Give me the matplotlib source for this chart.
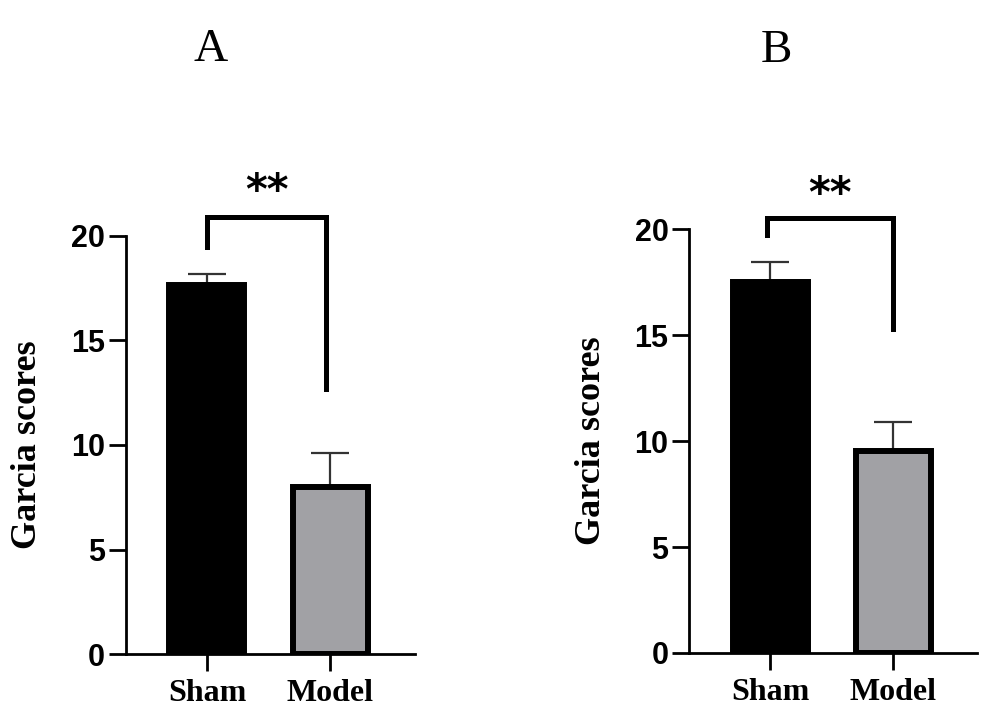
import numpy as np
import matplotlib
matplotlib.use('Agg')
import matplotlib.pyplot as plt

groups = ['Sham', 'Model']
colors = ['#000000', '#a1a1a5']

# panel A
mean_a = [17.64, 8.0]
sem_a = [0.56, 1.63]
# panel B
mean_b = [17.5, 9.55]
sem_b = [0.96, 1.37]

panels = ['A', 'B']

serif = 'Liberation Serif'
sans = 'Liberation Sans'

fig = plt.figure(figsize=(10, 7.27), dpi=100)
fig.patch.set_facecolor('white')

ax_a = fig.add_axes([0.1257, 0.1004, 0.2893, 0.575])
ax_b = fig.add_axes([0.6893, 0.1018, 0.2877, 0.5828])


def draw_panel(ax, means, sems, xlim, bracket, star_y, label_x):
    x = np.arange(len(groups))
    ax.errorbar(x, means, yerr=[[0, 0], sems], fmt='none', ecolor='#333333',
                elinewidth=1.6, capsize=14, capthick=1.6, zorder=1)
    ax.bar(x, means, width=0.61, color=colors, edgecolor='black',
           linewidth=4.3, zorder=2)
    ax.set_xlim(*xlim)
    ax.set_ylim(0, 20)
    ax.set_yticks([0, 5, 10, 15, 20])
    ax.set_xticks(x)
    ax.set_xticklabels(groups, fontfamily=serif, fontweight='bold', fontsize=23)
    for lab in ax.get_yticklabels():
        lab.set_fontfamily(sans)
        lab.set_fontweight('bold')
        lab.set_fontsize(22)
    ax.tick_params(axis='y', length=12, width=2, pad=3)
    ax.tick_params(axis='x', length=12, width=2, pad=6)
    for s in ['top', 'right']:
        ax.spines[s].set_visible(False)
    for s in ['left', 'bottom']:
        ax.spines[s].set_linewidth(2)
    ax.set_ylabel('Garcia scores', fontfamily=serif, fontweight='bold', fontsize=26)
    ax.yaxis.set_label_coords(label_x, 0.5)
    ax.yaxis.label.set_verticalalignment('center')

    # significance bracket
    x0, x1, top, left_end, right_end = bracket
    ax.plot([x0, x0, x1, x1], [left_end, top, top, right_end], color='black',
            linewidth=3.6, solid_joinstyle='miter', clip_on=False)
    ax.text((x0 + x1) / 2, star_y, '**', ha='center', va='center',
            fontfamily='DejaVu Sans', fontweight='bold', fontsize=30, clip_on=False)


draw_panel(ax_a, mean_a, sem_a, (-0.66, 1.69), (0.0, 0.97, 20.93, 19.49, 12.7), 22.1, -0.338)
draw_panel(ax_b, mean_b, sem_b, (-0.66, 1.68), (-0.03, 1.0, 20.51, 19.72, 15.29), 21.6, -0.341)

fig.text(0.211, 1 - 50 / 727, panels[0], ha='center', va='center',
         fontfamily=serif, fontsize=34)
fig.text(0.776, 1 - 51 / 727, panels[1], ha='center', va='center',
         fontfamily=serif, fontsize=34)

fig.savefig('out.png', dpi=100, facecolor='white')
